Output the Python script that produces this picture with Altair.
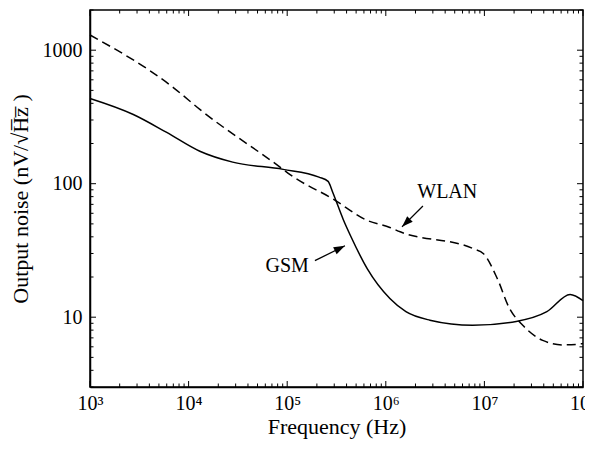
import altair as alt
import pandas as pd

# ---- data ----
wlan_f = [1e3, 7e3, 1.3e4, 9.1e4, 1.07e5, 2.9e5, 6.5e5, 1.1e6, 1.4e6, 7.7e6, 9.8e6, 1.35e7, 1.8e7, 2.45e7, 3.9e7, 6.3e7, 9.3e7, 1e8]
wlan_v = [1300, 525, 360, 128, 117, 77, 53, 47, 43.6, 32.6, 29.9, 19.5, 11.6, 8.7, 6.7, 6.2, 6.3, 6.35]

gsm_f = [1e3, 2.75e3, 6e3, 1.3e4, 2.8e4, 9.1e4, 2.1e5, 2.6e5, 2.9e5, 3.7e5, 4.4e5, 6.5e5, 1.1e6, 1.6e6, 2.8e6, 7.6e6, 2.1e7, 4.3e7, 7.4e7, 1e8]
gsm_v = [435, 330, 242, 175, 145, 128, 112, 104, 86, 54, 40.6, 23, 13.8, 11.0, 9.5, 8.7, 9.3, 11.0, 14.8, 13.3]

x_major = [1e3, 1e4, 1e5, 1e6, 1e7, 1e8]
x_labels = ["10³", "10⁴", "10⁵", "10⁶", "10⁷", "10⁸"]
y_major = [10, 100, 1000]

labels_text = ["WLAN", "GSM"]
labels_f = [4.2e6, 1.0e5]
labels_v = [87, 24]
arrow_name = ["WLAN", "WLAN", "GSM", "GSM"]
arrow_f = [2.38e6, 1.46e6, 1.91e5, 3.85e5]
arrow_v = [68, 47.5, 26.5, 34.3]
head_angle = [225, 63]

X_DOM = [1e3, 1e8]
Y_DOM = [3, 2000]
W, H = 493, 377
FONT = "Times New Roman, Liberation Serif, serif"

x_minor = [m * d for d in [1e3, 1e4, 1e5, 1e6, 1e7] for m in range(2, 10)]
y_minor = [m * d for d in [1, 10, 100, 1000] for m in range(2, 10) if Y_DOM[0] <= m * d <= Y_DOM[1]]

xs = alt.Scale(type="log", domain=X_DOM, nice=False)
ys = alt.Scale(type="log", domain=Y_DOM, nice=False)

lab_map = "{" + ",".join(f"'{e}':'{l}'" for e, l in zip(range(3, 9), x_labels)) + "}"

x_enc = alt.X("f:Q", scale=xs, title="Frequency (Hz)",
              axis=alt.Axis(values=x_major,
                            labelExpr=lab_map + "[''+round(log(datum.value)/LN10)]",
                            labelFlush=False, labelOverlap=False,
                            grid=False, ticks=False, domain=True, domainColor="black",
                            domainWidth=1.5, labelPadding=6, labelFontSize=20,
                            titleFontSize=22, titlePadding=3, labelFont=FONT, titleFont=FONT,
                            labelColor="black", titleColor="black", titleFontWeight="normal"))
y_enc = alt.Y("v:Q", scale=ys, title="Output noise (nV/√H̅z̅ )",
              axis=alt.Axis(values=y_major, format="d", labelFlush=False, labelOverlap=False,
                            grid=False, ticks=False, domain=True, domainColor="black",
                            domainWidth=1.5, labelPadding=8,
                            labelFontSize=20, titleFontSize=22, titlePadding=10, labelFont=FONT,
                            titleFont=FONT, labelColor="black", titleColor="black",
                            titleFontWeight="normal"))

wlan_df = pd.DataFrame({"f": wlan_f, "v": wlan_v})
gsm_df = pd.DataFrame({"f": gsm_f, "v": gsm_v})

wlan_line = alt.Chart(wlan_df).mark_line(color="black", strokeWidth=1.5, strokeDash=[9, 5],
                                         interpolate="monotone").encode(x=x_enc, y=y_enc)
gsm_line = alt.Chart(gsm_df).mark_line(color="black", strokeWidth=1.5,
                                       interpolate="monotone").encode(x=x_enc, y=y_enc)


# inward tick marks on all four sides, drawn as line-shaped point symbols at the frame edges
def tick_rows(xvals, yvals):
    rows = []
    for v in xvals:
        rows.append({"f": v, "v": Y_DOM[0], "ang": 0})
        rows.append({"f": v, "v": Y_DOM[1], "ang": 180})
    for v in yvals:
        rows.append({"f": X_DOM[0], "v": v, "ang": 90})
        rows.append({"f": X_DOM[1], "v": v, "ang": 270})
    return pd.DataFrame(rows)


def tick_layer(df, size):
    return alt.Chart(df).mark_point(
        shape="M0,0L0,-1", filled=False, color="black", strokeWidth=1, size=size, opacity=1
    ).encode(x=alt.X("f:Q", scale=xs), y=alt.Y("v:Q", scale=ys),
             angle=alt.Angle("ang:Q", scale=None))


major_ticks = tick_layer(tick_rows(x_major, y_major), 144)
minor_ticks = tick_layer(tick_rows(x_minor, y_minor), 49)

ann = pd.DataFrame({"t": labels_text, "f": labels_f, "v": labels_v})
texts = alt.Chart(ann).mark_text(font=FONT, fontSize=20, color="black").encode(
    x=alt.X("f:Q", scale=xs), y=alt.Y("v:Q", scale=ys), text="t:N")

arr = pd.DataFrame({"a": arrow_name, "f": arrow_f, "v": arrow_v, "o": [0, 1, 0, 1]})
shafts = alt.Chart(arr).mark_line(color="black", strokeWidth=1.3).encode(
    x=alt.X("f:Q", scale=xs), y=alt.Y("v:Q", scale=ys), detail="a:N", order="o:Q")

heads_df = arr[arr["o"] == 1].copy().reset_index(drop=True)
heads_df["ang"] = head_angle
heads = alt.Chart(heads_df).mark_point(
    shape="M0,0L0.45,1.3L-0.45,1.3Z", filled=True, color="black", size=300, opacity=1
).encode(x=alt.X("f:Q", scale=xs), y=alt.Y("v:Q", scale=ys),
         angle=alt.Angle("ang:Q", scale=None))

chart = alt.layer(wlan_line, gsm_line, major_ticks, minor_ticks, texts, shafts, heads).properties(
    width=W, height=H,
    padding={"left": 82, "top": 2, "right": 2, "bottom": 55},
    autosize=alt.AutoSizeParams(type="none"),
).configure_view(stroke="black", strokeWidth=1.5)

chart.save("out.html", embed_options={"renderer": "svg", "actions": False})
